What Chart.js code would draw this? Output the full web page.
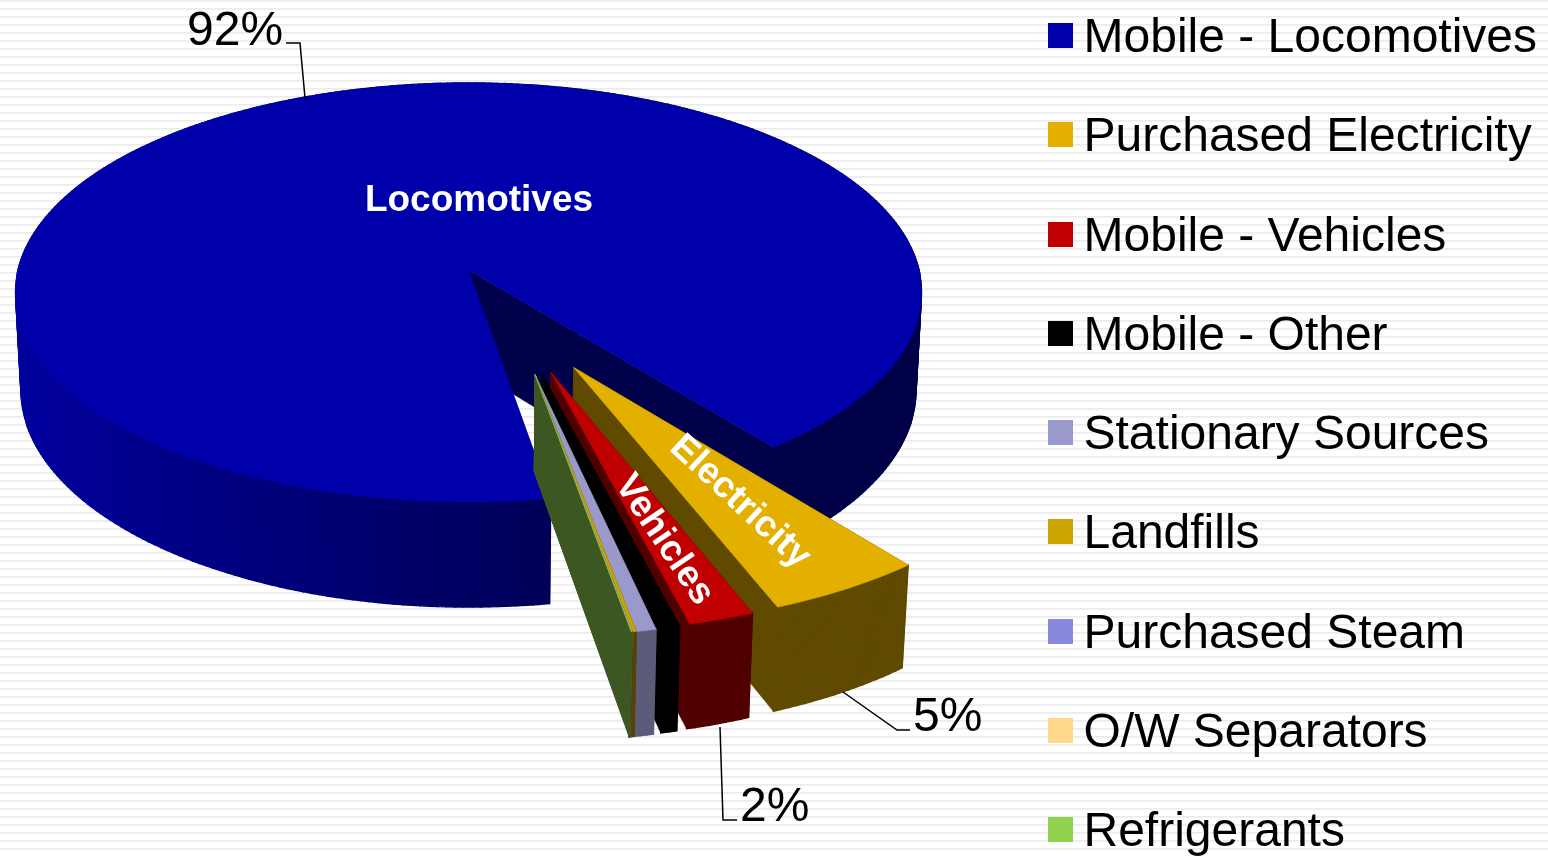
<!DOCTYPE html>
<html>
<head>
<meta charset="utf-8">
<title>Emissions by source</title>
<script src="https://cdn.jsdelivr.net/npm/chart.js@4/dist/chart.umd.min.js"></script>
<style>
html, body { margin: 0; width: 1548px; height: 856px; overflow: hidden; }
body { position: relative; background: repeating-linear-gradient(to bottom, #ebebeb 0, #ebebeb 1px, #f3f3f3 1px, #f3f3f3 2px, #fbfbfb 2px, #fbfbfb 3px, #ffffff 3px, #ffffff 8px); font-family: "Liberation Sans", Arial, sans-serif; }
#pie { position: absolute; left: 0; top: 0; }
#legend { position: absolute; left: 1048px; top: -14.2px; margin: 0; padding: 0; list-style: none; }
#legend li { height: 99.3px; display: flex; align-items: center; font-size: 48px; color: #000; white-space: nowrap; }
#legend i { display: block; width: 25px; height: 25px; margin-right: 10.5px; }
</style>
</head>
<body>
<canvas id="pie" width="1548" height="856"></canvas>
<ul id="legend"></ul>
<script>
const categories = ['Mobile - Locomotives', 'Purchased Electricity', 'Mobile - Vehicles', 'Mobile - Other', 'Stationary Sources', 'Landfills', 'Purchased Steam', 'O/W Separators', 'Refrigerants'];
const values = [91.9, 4.8, 2.0, 0.5, 0.6, 0.12, 0.01, 0.01, 0.01];
const colors = ['#0000aa', '#e3b000', '#c00000', '#000000', '#9999cc', '#cca400', '#8888dd', '#ffd98a', '#92d050'];

// how far each slice is pulled out (share of the radius), and towards where (degrees right of straight down)
const explode = [0, 0.5, 0.5, 0.5, 0.5, 0.5, 0.5, 0.5, 0.5];
const explodeDir = [0, 26.4, 20.3, 18, 16.3, 16.3, 16.3, 16.3, 16.3];
// how dark the outer wall of a pulled out slice is
const rimShade = [0, 0.42, 0.42, 0.42, 0.6, 0.42, 0.42, 0.42, 0.42];

// small labels that sit on the slices
const sliceLabels = [
    { text: 'Locomotives', x: 479, y: 201, rot: 0 },
    { text: 'Electricity', x: 740, y: 502, rot: 43 },
    { text: 'Vehicles', x: 664, y: 540, rot: 56 }
];
const pctLabels = [
    { text: '92%', x: 187, y: 45 },
    { text: '5%', x: 913, y: 731 },
    { text: '2%', x: 740, y: 821 }
];
const leaders = [
    [[286, 43], [300, 43], [305, 98]],
    [[843, 692], [897, 730], [910, 730]],
    [[720, 727], [723, 820], [737, 820]]
];

// camera
const tiltX = 1.668, tiltY = 0.767, persp = 0.107, shrink = 0.012;
const bodyDepth = 98, sliceDepth = 94, sliceGrow = 1.006;

function darker(hex, m) {
    const n = parseInt(hex.slice(1), 16);
    return 'rgb(' + Math.round((n >> 16 & 255) * m) + ',' + Math.round((n >> 8 & 255) * m) + ',' + Math.round((n & 255) * m) + ')';
}

const pie3d = {
    id: 'pie3d',
    beforeDatasetsDraw(chart) {
        const ctx = chart.ctx;
        const arcs = chart.getDatasetMeta(0).data;

        arcs.forEach((arc, i) => {
            const p = arc.getProps(['x', 'y', 'startAngle', 'endAngle', 'outerRadius']);
            const rx = p.outerRadius * tiltX, ry = p.outerRadius * tiltY;
            const dir = explodeDir[i] * Math.PI / 180;
            const ou = explode[i] * Math.sin(dir), ov = explode[i] * Math.cos(dir);
            const depth = i === 0 ? bodyDepth : sliceDepth;
            const grow = i === 0 ? 1 : sliceGrow;

            // disc coordinates -> screen, z 0 is the top face and z 1 the bottom one
            const project = (u, v, z) => {
                const w = 1 - persp * v + shrink * z;
                return [p.x + rx * u / w, p.y + (ry * v + depth * z) / w];
            };
            const poly = (pts, fill, lw) => {
                ctx.beginPath();
                pts.forEach((q, k) => k ? ctx.lineTo(q[0], q[1]) : ctx.moveTo(q[0], q[1]));
                ctx.closePath();
                ctx.fillStyle = fill;
                ctx.strokeStyle = fill;
                ctx.lineWidth = lw;
                ctx.fill();
                ctx.stroke();
            };
            const rimPoint = (a) => [ou + grow * Math.cos(a), ov + grow * Math.sin(a)];

            const steps = Math.max(2, Math.ceil((p.endAngle - p.startAngle) / (Math.PI / 180)));
            const rim = [];
            for (let s = 0; s <= steps; s++) rim.push(rimPoint(p.startAngle + (p.endAngle - p.startAngle) * s / steps));

            const wallColor = i === 0 ? darker(colors[i], 0.44) : darker(colors[i], 0.42);
            const first = rim[0], last = rim[steps];

            // radial walls
            poly([project(ou, ov, 0), project(first[0], first[1], 0), project(first[0], first[1], 1), project(ou, ov, 1)], wallColor, 0.6);
            if (i === 0) poly([project(ou, ov, 0), project(last[0], last[1], 0), project(last[0], last[1], 1), project(ou, ov, 1)], wallColor, 0.6);

            // outer wall, far segments first
            const segs = [];
            for (let s = 0; s < steps; s++) segs.push(s);
            segs.sort((a, b) => rim[a][1] - rim[b][1]);
            segs.forEach((s) => {
                const a = rim[s], b = rim[s + 1];
                const m = i === 0 ? Math.min(1, Math.max(0.42, 0.58 - 0.37 * a[0])) : rimShade[i];
                poly([project(a[0], a[1], 0), project(b[0], b[1], 0), project(b[0], b[1], 1), project(a[0], a[1], 1)], darker(colors[i], m), 1.4);
            });

            if (i !== 0) poly([project(ou, ov, 0), project(last[0], last[1], 0), project(last[0], last[1], 1), project(ou, ov, 1)], wallColor, 0.6);

            // top face
            poly([project(ou, ov, 0)].concat(rim.map((q) => project(q[0], q[1], 0))), colors[i], 0.6);
        });
        return false;
    },
    afterDraw(chart) {
        const ctx = chart.ctx;
        ctx.save();
        ctx.strokeStyle = '#000';
        ctx.lineWidth = 1.5;
        leaders.forEach((line) => {
            ctx.beginPath();
            line.forEach((q, k) => k ? ctx.lineTo(q[0], q[1]) : ctx.moveTo(q[0], q[1]));
            ctx.stroke();
        });
        ctx.fillStyle = '#000';
        ctx.font = '48px "Liberation Sans"';
        ctx.textAlign = 'left';
        ctx.textBaseline = 'alphabetic';
        pctLabels.forEach((l) => ctx.fillText(l.text, l.x, l.y));

        ctx.fillStyle = '#fff';
        ctx.font = 'bold 37px "Liberation Sans"';
        ctx.textAlign = 'center';
        ctx.textBaseline = 'middle';
        sliceLabels.forEach((l) => {
            ctx.save();
            ctx.translate(l.x, l.y);
            ctx.rotate(l.rot * Math.PI / 180);
            ctx.fillText(l.text, 0, 0);
            ctx.restore();
        });
        ctx.restore();
    }
};

new Chart(document.getElementById('pie'), {
    type: 'pie',
    data: {
        labels: categories,
        datasets: [{ data: values, backgroundColor: colors, borderWidth: 0 }]
    },
    options: {
        responsive: false,
        animation: false,
        rotation: 170.6,
        layout: { padding: { left: 0, top: 0, right: 611, bottom: 316 } },
        plugins: { legend: { display: false }, tooltip: { enabled: false } }
    },
    plugins: [pie3d]
});

// legend sits outside the canvas, rows are too tall for the built-in one
document.getElementById('legend').innerHTML = categories.map((c, i) =>
    '<li><i style="background:' + colors[i] + '"></i>' + c + '</li>').join('');
</script>
</body>
</html>
